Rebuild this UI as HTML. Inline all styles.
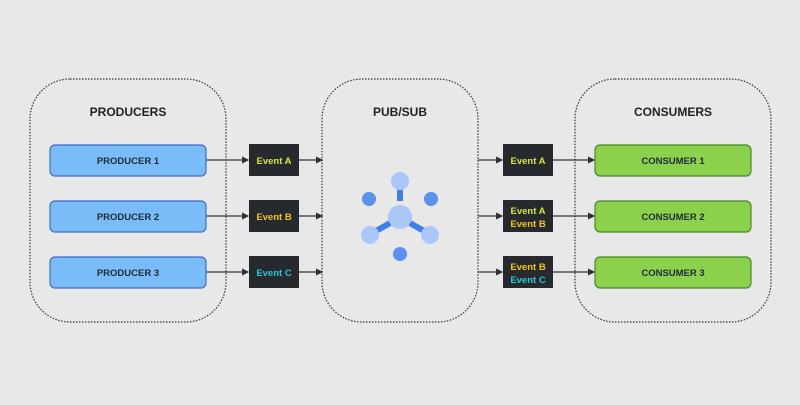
<!DOCTYPE html>
<html><head><style>
body{margin:0;width:800px;height:400px;background:#e8e8e8;font-family:"Liberation Sans",sans-serif;}
</style></head><body>
<svg width="800" height="400" xmlns="http://www.w3.org/2000/svg" font-family="Liberation Sans, sans-serif" font-weight="bold">
<defs><marker id="a" markerWidth="6" markerHeight="6" refX="5" refY="3" orient="auto"><path d="M0,0 L6,3 L0,6z" fill="#333"/></marker></defs>
<g fill="none" stroke="#333" stroke-width="1.2" stroke-dasharray="1.5,1.5">
<rect x="30" y="79" width="196" height="243" rx="40"/>
<rect x="322" y="79" width="156" height="243" rx="40"/>
<rect x="575" y="79" width="196" height="243" rx="40"/>
</g>
<g font-size="12" fill="#222" text-anchor="middle">
<text x="128" y="116">PRODUCERS</text>
<text x="400" y="116">PUB/SUB</text>
<text x="673" y="116">CONSUMERS</text>
</g>
<g stroke="#333" stroke-width="1.2" marker-end="url(#a)">
<line x1="206" y1="160" x2="248" y2="160"/><line x1="299" y1="160" x2="322" y2="160"/>
<line x1="206" y1="216" x2="248" y2="216"/><line x1="299" y1="216" x2="322" y2="216"/>
<line x1="206" y1="272" x2="248" y2="272"/><line x1="299" y1="272" x2="322" y2="272"/>
<line x1="478" y1="160" x2="502" y2="160"/><line x1="553" y1="160" x2="594" y2="160"/>
<line x1="478" y1="216" x2="502" y2="216"/><line x1="553" y1="216" x2="594" y2="216"/>
<line x1="478" y1="272" x2="502" y2="272"/><line x1="553" y1="272" x2="594" y2="272"/>
</g>
<g fill="#79bcf8" stroke="#3d6fc0" stroke-width="1.2">
<rect x="50" y="145" width="156" height="31" rx="5"/>
<rect x="50" y="201" width="156" height="31" rx="5"/>
<rect x="50" y="257" width="156" height="31" rx="5"/>
</g>
<g fill="#8bd14c" stroke="#4a8a25" stroke-width="1.2">
<rect x="595" y="145" width="156" height="31" rx="5"/>
<rect x="595" y="201" width="156" height="31" rx="5"/>
<rect x="595" y="257" width="156" height="31" rx="5"/>
</g>
<g font-size="9.5" fill="#1e2a3a" text-anchor="middle">
<text x="128" y="164">PRODUCER 1</text><text x="128" y="220">PRODUCER 2</text><text x="128" y="276">PRODUCER 3</text>
<text x="673" y="164">CONSUMER 1</text><text x="673" y="220">CONSUMER 2</text><text x="673" y="276">CONSUMER 3</text>
</g>
<g fill="#262a2e">
<rect x="249" y="144" width="50" height="32"/><rect x="249" y="200" width="50" height="32"/><rect x="249" y="256" width="50" height="32"/>
<rect x="503" y="144" width="50" height="32"/><rect x="503" y="200" width="50" height="32"/><rect x="503" y="256" width="50" height="32"/>
</g>
<g font-size="9.5" text-anchor="middle">
<text x="274" y="164" fill="#d6e34a">Event A</text>
<text x="274" y="220" fill="#f2c41b">Event B</text>
<text x="274" y="276" fill="#2cc6dc">Event C</text>
<text x="528" y="164" fill="#d6e34a">Event A</text>
<text x="528" y="214" fill="#d6e34a">Event A</text>
<text x="528" y="227" fill="#f2c41b">Event B</text>
<text x="528" y="270" fill="#f2c41b">Event B</text>
<text x="528" y="283" fill="#2cc6dc">Event C</text>
</g>
<g>
<rect x="397" y="189" width="6" height="12" fill="#3f7fe6"/>
<line x1="376" y1="231" x2="390" y2="223" stroke="#3f7fe6" stroke-width="6"/>
<line x1="424" y1="231" x2="410" y2="223" stroke="#3f7fe6" stroke-width="6"/>
<circle cx="400" cy="181" r="9" fill="#a9c8f7"/>
<circle cx="370" cy="235" r="9" fill="#a9c8f7"/>
<circle cx="430" cy="235" r="9" fill="#a9c8f7"/>
<circle cx="400" cy="217" r="12" fill="#a9c8f7"/>
<circle cx="369" cy="199" r="7" fill="#5a91ea"/>
<circle cx="431" cy="199" r="7" fill="#5a91ea"/>
<circle cx="400" cy="254" r="7" fill="#5a91ea"/>
</g>
</svg>
</body></html>
